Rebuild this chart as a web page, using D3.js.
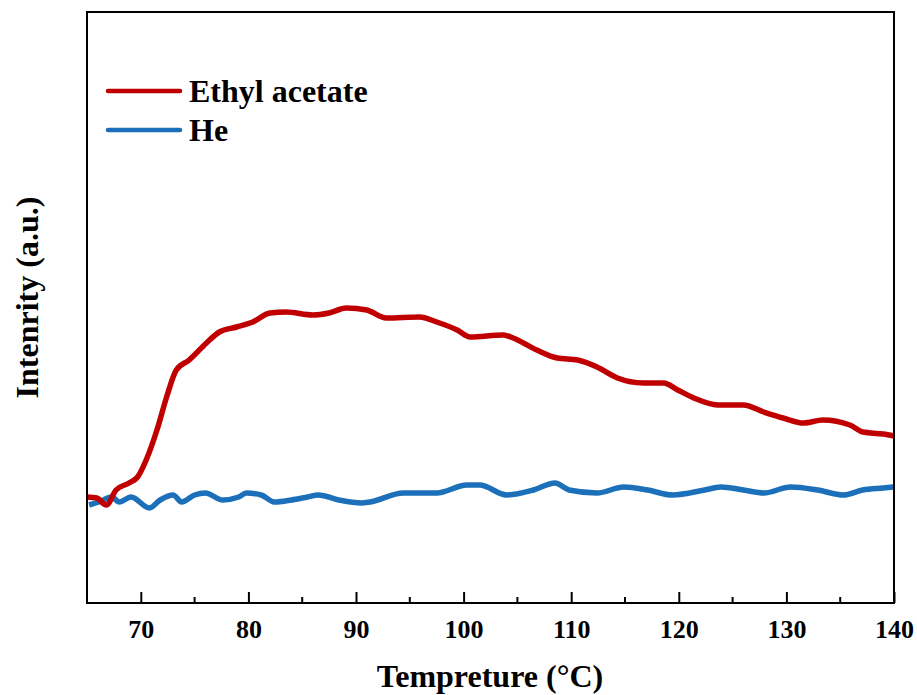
<!DOCTYPE html>
<html>
<head>
<meta charset="utf-8">
<script src="https://cdn.jsdelivr.net/npm/d3@7"></script>
<style>
  body { margin: 0; background: #fff; }
  text { font-family: "Liberation Serif", "Times New Roman", serif; font-weight: bold; }
</style>
</head>
<body>
<svg width="917" height="695"></svg>
<script>
// Data (intensity in arbitrary units)
var redTemp = [65.0, 65.9, 66.8, 67.7, 68.9, 69.7, 70.5, 71.5, 72.4, 73.3, 74.5, 76.1, 77.3, 78.9, 80.4,
  82.0, 83.5, 86.0, 87.5, 89.1, 91.0, 92.8, 95.9, 97.5, 99.4, 100.6, 103.7, 104.6, 106.8, 108.7,
  110.6, 112.4, 114.3, 116.7, 118.6, 119.9, 121.4, 123.6, 126.0, 127.9, 129.7, 131.6, 133.4, 135.9,
  137.1, 139.0, 140.0];
var redVal = [106, 105, 98, 113, 120, 126, 143, 173, 206, 233, 243, 260, 271, 276, 281,
  290, 291, 288, 290, 295, 293, 285, 286, 281, 273, 266, 268, 265, 253, 245,
  243, 236, 225, 220, 220, 213, 205, 198, 198, 191, 185, 180, 183, 178,
  171, 169, 167];

var blueTemp = [65.2, 66.1, 67.3, 68.0, 69.1, 70.8, 71.8, 73.0, 73.8, 75.0, 76.0, 77.6, 79.1, 79.8, 81.2,
  82.4, 84.0, 85.5, 86.5, 88.4, 90.5, 91.3, 94.4, 97.5, 100.3, 101.5, 104.0, 106.5, 108.5, 109.8,
  112.4, 114.9, 117.1, 119.4, 122.4, 123.9, 126.0, 127.9, 130.4, 132.9, 135.3, 137.1, 139.0, 140.0];
var blueVal = [98, 101, 106, 101, 106, 95, 103, 108, 101, 108, 110, 103, 106, 110, 108,
  101, 103, 106, 108, 103, 100, 101, 110, 110, 118, 118, 108, 113, 120, 113,
  110, 116, 113, 108, 113, 116, 113, 110, 116, 113, 108, 113, 115, 116];

var xTicks = [70, 80, 90, 100, 110, 120, 130, 140];
var xMinor = [75, 85, 95, 105, 115, 125, 135];
var seriesNames = ["Ethyl acetate", "He"];
var seriesColors = ["#c00000", "#1b70b9"];

var svg = d3.select("svg");
var plotL = 87, plotR = 894, plotT = 12, plotB = 603;

var x = d3.scaleLinear().domain([65, 140]).range([plotL, plotR]);
var y = d3.scaleLinear().domain([0, 591]).range([plotB, plotT]);

var line = d3.line()
    .x(d => x(d[0]))
    .y(d => y(d[1]))
    .curve(d3.curveMonotoneX);

var series = [d3.zip(redTemp, redVal), d3.zip(blueTemp, blueVal)];

// Curves (He first, ethyl acetate on top)
svg.append("path")
    .datum(series[1])
    .attr("d", line)
    .attr("fill", "none")
    .attr("stroke", seriesColors[1])
    .attr("stroke-width", 5.5);

svg.append("path")
    .datum(series[0])
    .attr("d", line)
    .attr("fill", "none")
    .attr("stroke", seriesColors[0])
    .attr("stroke-width", 5.5);

// Frame
svg.append("rect")
    .attr("x", plotL).attr("y", plotT)
    .attr("width", plotR - plotL).attr("height", plotB - plotT)
    .attr("fill", "none").attr("stroke", "#000").attr("stroke-width", 2);

// Bottom axis, ticks pointing inward
var xAxis = svg.append("g")
    .attr("transform", `translate(0,${plotB})`)
    .call(d3.axisBottom(x).tickValues(xTicks).tickSize(-11).tickPadding(17).tickFormat(d3.format("d")));
xAxis.select(".domain").remove();
xAxis.selectAll(".tick line").attr("stroke-width", 2);
xAxis.selectAll(".tick text")
    .attr("font-size", 26)
    .attr("fill", "#000")
    .attr("font-family", "Liberation Serif, serif");

svg.append("g")
    .selectAll("line")
    .data(xMinor)
    .enter().append("line")
    .attr("x1", d => x(d)).attr("x2", d => x(d))
    .attr("y1", plotB).attr("y2", plotB - 6)
    .attr("stroke", "#000").attr("stroke-width", 2);

// Axis titles
svg.append("text")
    .attr("x", 490)
    .attr("y", 687)
    .attr("text-anchor", "middle")
    .attr("font-size", 32)
    .text("Tempreture (°C)");

svg.append("text")
    .attr("transform", `translate(38,${(plotT + plotB) / 2 - 10}) rotate(-90)`)
    .attr("text-anchor", "middle")
    .attr("font-size", 32)
    .text("Intenrity (a.u.)");

// Legend
var legend = svg.append("g")
    .selectAll("g")
    .data(seriesNames)
    .enter().append("g")
    .attr("transform", (d, i) => `translate(0,${91 + i * 39})`);

legend.append("line")
    .attr("x1", 108).attr("x2", 180)
    .attr("stroke", (d, i) => seriesColors[i])
    .attr("stroke-width", 4.5)
    .attr("stroke-linecap", "round");

legend.append("text")
    .attr("x", 189)
    .attr("y", 11)
    .attr("font-size", 32)
    .text(d => d);
</script>
</body>
</html>
